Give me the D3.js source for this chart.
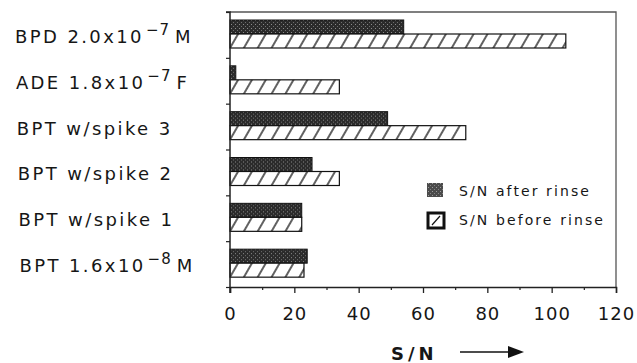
<!DOCTYPE html>
<html lang="en">
<head>
<meta charset="utf-8">
<title>S/N before and after rinse</title>
<script src="https://d3js.org/d3.v7.min.js"></script>
<style>
  body { margin: 0; background: #fff; }
  svg text { font-family: "DejaVu Sans", sans-serif; fill: #161616; }
</style>
</head>
<body>
<div id="svgcontainer"></div>
<script type="text/javascript">
// category labels (main text, exponent, unit)
var labelMain = ["BPD 2.0x10", "ADE 1.8x10", "BPT w/spike 3", "BPT w/spike 2", "BPT w/spike 1", "BPT 1.6x10"];
var labelExp  = ["\u22127", "\u22127", "", "", "", "\u22128"];
var labelUnit = ["M", "F", "", "", "", "M"];
// S/N values
var afterRinse  = [54, 1.8, 49, 25.5, 22.3, 24];
var beforeRinse = [104.4, 34, 73.3, 34, 22.3, 23];
var xTicks = [0, 20, 40, 60, 80, 100, 120];
var xMinor = [10, 30, 50, 70, 90, 110];
var legendLabels = ["S/N after rinse", "S/N before rinse"];

var w = 637, h = 363;
var margin = { top: 12, right: 21, bottom: 76, left: 230 };
var width = w - margin.left - margin.right, height = h - margin.top - margin.bottom;

var svg = d3.select("#svgcontainer").append("svg")
    .attr("width", w).attr("height", h);

// patterns
var defs = svg.append("defs");
var dark = defs.append("pattern")
    .attr("id", "stipple").attr("patternUnits", "userSpaceOnUse")
    .attr("width", 4).attr("height", 4);
dark.append("rect").attr("width", 4).attr("height", 4).attr("fill", "#2b2b2b");
dark.append("rect").attr("x", 1).attr("y", 0).attr("width", 1).attr("height", 1).attr("fill", "#8a8a8a");
dark.append("rect").attr("x", 3).attr("y", 2).attr("width", 1).attr("height", 1).attr("fill", "#6e6e6e");
var hatch = defs.append("pattern")
    .attr("id", "hatch").attr("patternUnits", "userSpaceOnUse")
    .attr("width", 12).attr("height", 12)
    .attr("patternTransform", "rotate(30)");
hatch.append("rect").attr("width", 12).attr("height", 12).attr("fill", "#fff");
hatch.append("line").attr("x1", 6).attr("x2", 6).attr("y1", -1).attr("y2", 13)
    .attr("stroke", "#1e1e1e").attr("stroke-width", 1.4);

var g = svg.append("g").attr("transform", `translate(${margin.left},${margin.top})`);

var x = d3.scaleLinear().domain([0, 120]).range([0, width]);
var y = d3.scaleBand().domain(d3.range(labelMain.length)).range([0, height]);
var barH = 14, barTop = 8;

// frame (top and right)
g.append("path")
    .attr("d", `M0,0H${width}V${height}`)
    .attr("fill", "none").attr("stroke", "#555").attr("stroke-width", 1.3);

// bars
var groups = g.selectAll("g.cat").data(d3.range(labelMain.length)).join("g")
    .attr("class", "cat")
    .attr("transform", d => `translate(0,${y(d)})`);
groups.append("rect")
    .attr("x", 0).attr("y", barTop)
    .attr("width", d => x(afterRinse[d])).attr("height", barH)
    .attr("fill", "url(#stipple)").attr("stroke", "#111").attr("stroke-width", 1);
groups.append("rect")
    .attr("x", 0).attr("y", barTop + barH)
    .attr("width", d => x(beforeRinse[d])).attr("height", barH)
    .attr("fill", "url(#hatch)").attr("stroke", "#111").attr("stroke-width", 1.2);

// x axis
var xAxis = g.append("g").attr("transform", `translate(0,${height})`)
    .call(d3.axisBottom(x).tickValues(xTicks).tickSize(6).tickFormat(d3.format("d")));
xAxis.select(".domain").attr("stroke", "#222").attr("stroke-width", 1.5);
xAxis.selectAll(".tick line").attr("stroke", "#222").attr("stroke-width", 1.3);
xAxis.selectAll(".tick text")
    .attr("y", 33).attr("dy", 0)
    .style("font-size", "18px").style("letter-spacing", "1px")
    .attr("fill", "#161616");
var xMinorAxis = g.append("g").attr("transform", `translate(0,${height})`)
    .call(d3.axisBottom(x).tickValues(xMinor).tickSize(3).tickFormat(""));
xMinorAxis.select(".domain").remove();
xMinorAxis.selectAll(".tick line").attr("stroke", "#222").attr("stroke-width", 1.2);

// y axis with ticks at band edges
var yEdges = d3.range(labelMain.length + 1).map(i => i * y.step());
var yLin = d3.scaleLinear().domain([0, height]).range([0, height]);
var yAxis = g.append("g")
    .call(d3.axisLeft(yLin).tickValues(yEdges).tickSize(4).tickFormat(""));
yAxis.select(".domain").attr("stroke", "#222").attr("stroke-width", 1.5)
    .attr("d", `M-4,0H0V${height + 6}`);
yAxis.selectAll(".tick line").attr("stroke", "#222").attr("stroke-width", 1.2);

// category labels
var labels = svg.append("g").selectAll("text").data(d3.range(labelMain.length)).join("text")
    .attr("x", (d, i) => 15 + i * 0.9)
    .attr("y", d => margin.top + y(d) + y.bandwidth() / 2 + 8)
    .style("font-size", "18px").style("letter-spacing", "2.4px");
labels.append("tspan").text(d => labelMain[d]);
labels.filter(d => labelExp[d] !== "").append("tspan")
    .attr("dy", -8).attr("dx", 2)
    .style("font-size", "15px").style("letter-spacing", "1px")
    .text(d => labelExp[d]);
labels.filter(d => labelUnit[d] !== "").append("tspan")
    .attr("dy", 8).attr("dx", 5)
    .text(d => labelUnit[d]);

// legend
var legend = svg.append("g").attr("transform", "translate(427,183)");
legend.append("rect").attr("x", 0).attr("y", 0).attr("width", 16).attr("height", 14)
    .attr("fill", "url(#stipple)").attr("opacity", 0.85);
var lb = legend.append("g").attr("transform", "translate(0,29)");
lb.append("rect").attr("x", 1).attr("y", 1).attr("width", 16).attr("height", 15)
    .attr("fill", "#fff").attr("stroke", "#111").attr("stroke-width", 3);
lb.append("line").attr("x1", 5).attr("y1", 13).attr("x2", 13).attr("y2", 4)
    .attr("stroke", "#111").attr("stroke-width", 1.2);
legend.selectAll("text.lg").data(legendLabels).join("text")
    .attr("class", "lg")
    .attr("x", 32).attr("y", (d, i) => 13 + i * 29)
    .style("font-size", "14px").style("letter-spacing", "2.1px")
    .text(d => d);

// axis title and arrow
svg.append("text")
    .attr("x", 391).attr("y", 360)
    .style("font-size", "18px").style("font-weight", "bold").style("letter-spacing", "4px")
    .text("S/N");
svg.append("line").attr("x1", 460).attr("x2", 512).attr("y1", 352).attr("y2", 352)
    .attr("stroke", "#111").attr("stroke-width", 1.6);
svg.append("path").attr("d", "M508,346L524,352L508,358Z").attr("fill", "#111");
</script>
</body>
</html>
